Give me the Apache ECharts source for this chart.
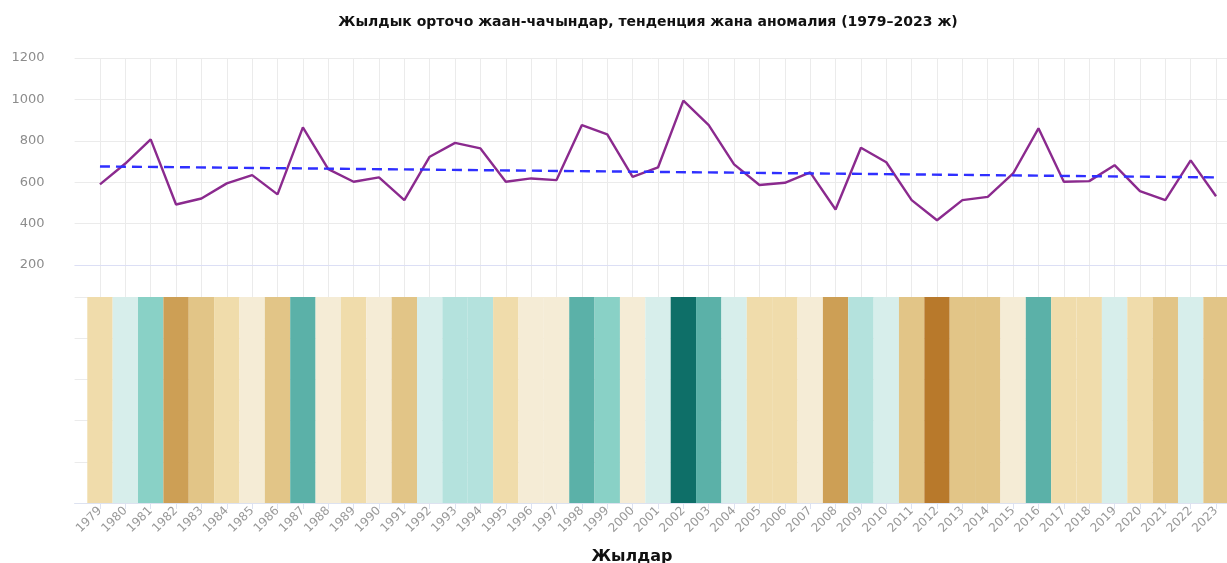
<!DOCTYPE html>
<html>
<head>
<meta charset="utf-8">
<script src="https://cdn.jsdelivr.net/npm/echarts@6/dist/echarts.min.js"></script>
<style>
  html, body { margin: 0; background: #fff; }
  #chart { width: 1227px; height: 563px; }
</style>
</head>
<body>
<div id="chart"></div>
<script>
// Жылдар жана жылдык жаан-чачын (мм)
const years = [
  1979, 1980, 1981, 1982, 1983, 1984, 1985, 1986, 1987, 1988,
  1989, 1990, 1991, 1992, 1993, 1994, 1995, 1996, 1997, 1998,
  1999, 2000, 2001, 2002, 2003, 2004, 2005, 2006, 2007, 2008,
  2009, 2010, 2011, 2012, 2013, 2014, 2015, 2016, 2017, 2018,
  2019, 2020, 2021, 2022, 2023
]
const precip = [
  589, 690, 807, 492, 521, 594, 634, 541, 865, 663,
  602, 623, 513, 723, 790, 763, 602, 618, 610, 876,
  831, 626, 671, 994, 876, 686, 586, 597, 647, 468,
  766, 696, 513, 416, 513, 529, 642, 860, 602, 605,
  682, 557, 513, 705, 532
]
// тенденция: башы жана аягы
const trendYears = [1979, 2023]
const trendValues = [676, 623]

// аномалия тилкелеринин түстөрү (жаан-чачын боюнча)
const stripePieces = [
  { lt: 450, color: '#b8792b' },
  { gte: 450, lt: 505, color: '#cd9f55' },
  { gte: 505, lt: 550, color: '#e2c587' },
  { gte: 550, lt: 607, color: '#f0dcab' },
  { gte: 607, lt: 667, color: '#f5ecd6' },
  { gte: 667, lt: 730, color: '#d7eeeb' },
  { gte: 730, lt: 800, color: '#b4e2dd' },
  { gte: 800, lt: 850, color: '#89d1c6' },
  { gte: 850, lt: 950, color: '#5bb1a8' },
  { gte: 950, color: '#0e6f68' }
]

const chart = echarts.init(document.getElementById('chart'))

const gridLine = '#ebebeb'
const font = 'DejaVu Sans'

chart.setOption({
  animation: false,
  title: {
    text: 'Жылдык орточо жаан-чачындар, тенденция жана аномалия (1979–2023 ж)',
    left: 643,
    top: 10,
    textAlign: 'center',
    textStyle: { fontFamily: font, fontSize: 14, fontWeight: 'bold', color: '#111' }
  },
  grid: [
    { left: 74.6, top: 58, width: 1166.8, height: 239, outerBoundsMode: 'none', containLabel: false },
    { left: 74.6, top: 297, width: 1166.8, height: 206, outerBoundsMode: 'none', containLabel: false }
  ],
  visualMap: {
    show: false,
    type: 'piecewise',
    seriesIndex: 2,
    dimension: 2,
    pieces: stripePieces
  },
  xAxis: [
    {
      gridIndex: 0, type: 'value', min: 1978, max: 2024, interval: 1,
      axisLine: { show: false }, axisTick: { show: false }, axisLabel: { show: false },
      splitLine: { show: true, showMinLine: false, showMaxLine: false, lineStyle: { color: gridLine } }
    },
    {
      gridIndex: 1, type: 'value', min: 1978, max: 2024, interval: 1,
      name: 'Жылдар', nameLocation: 'middle', nameGap: 46,
      nameTextStyle: { fontFamily: font, fontSize: 16, fontWeight: 'bold', color: '#111', padding: [0, 52, 0, 0] },
      axisLine: { show: true, lineStyle: { color: '#dde2f0' } },
      axisTick: { show: true, length: 6, lineStyle: { color: '#dde2f0' } },
      axisLabel: {
        rotate: 45, showMinLabel: false, showMaxLabel: false, margin: 6,
        color: '#999', fontFamily: font, fontSize: 12,
        formatter: v => String(v)
      },
      splitLine: { show: false }
    }
  ],
  yAxis: [
    {
      gridIndex: 0, type: 'value', min: 45, max: 1200,
      axisLine: { show: false }, axisTick: { show: false },
      axisLabel: {
        showMinLabel: false, margin: 30, color: '#8c8c8c', fontFamily: font, fontSize: 13,
        formatter: v => String(v)
      },
      splitLine: { showMinLine: false, lineStyle: { color: gridLine } }
    },
    {
      gridIndex: 1, type: 'value', min: 0, max: 1, interval: 0.2,
      axisLine: { show: false }, axisTick: { show: false }, axisLabel: { show: false },
      splitLine: { lineStyle: { color: gridLine } }
    }
  ],
  series: [
    {
      name: 'Жаан-чачын',
      type: 'line',
      xAxisIndex: 0, yAxisIndex: 0,
      data: years.map((y, i) => [y, precip[i]]),
      symbol: 'none',
      lineStyle: { color: '#8b2a8e', width: 2.4 },
      z: 3,
      markLine: {
        silent: true, symbol: 'none', label: { show: false },
        lineStyle: { color: '#dcdff5', type: 'solid', width: 1 },
        data: [{ yAxis: 200 }]
      }
    },
    {
      name: 'Тенденция',
      type: 'line',
      xAxisIndex: 0, yAxisIndex: 0,
      data: trendYears.map((y, i) => [y, trendValues[i]]),
      symbol: 'none',
      lineStyle: { color: '#2f2fff', width: 2.4, type: [10, 6] },
      z: 4
    },
    {
      name: 'Аномалия',
      type: 'bar',
      xAxisIndex: 1, yAxisIndex: 1,
      data: years.map((y, i) => [y, 1, precip[i]]),
      encode: { x: 0, y: 1 },
      barWidth: '100%'
    }
  ]
})
</script>
</body>
</html>
